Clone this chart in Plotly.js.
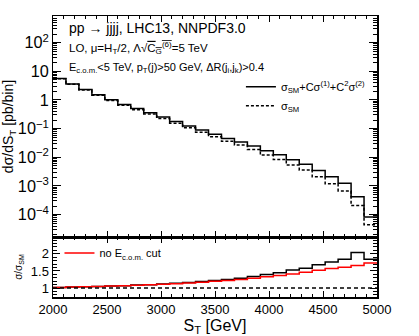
<!DOCTYPE html>
<html>
<head>
<meta charset="utf-8">
<script src="https://cdn.plot.ly/plotly-3.0.1.min.js"></script>
<style>
  html, body { margin: 0; padding: 0; background: #fff; }
  #target { width: 419px; height: 336px; }
</style>
</head>
<body>
<div id="target"></div>
<script>
(function(global) {
  // S_T bin edges [GeV], 120 GeV wide
  var binEdges = [2000, 2120, 2240, 2360, 2480, 2600, 2720, 2840, 2960, 3080, 3200, 3320, 3440,
                  3560, 3680, 3800, 3920, 4040, 4160, 4280, 4400, 4520, 4640, 4760, 4880, 5000];

  // dsigma/dS_T [pb/bin], SM + C sigma1 + C^2 sigma2
  var fullXsec = [5.62, 3.62, 2.33, 1.53, 1.02, 0.70, 0.50, 0.36, 0.255, 0.177, 0.124, 0.090, 0.064,
                  0.045, 0.0345, 0.025, 0.0168, 0.0122, 0.0082, 0.0057, 0.0035, 0.0021, 0.00124,
                  0.000425, 0.000082];
  // SM only
  var smXsec = [5.51, 3.51, 2.24, 1.46, 0.962, 0.654, 0.459, 0.327, 0.228, 0.155, 0.107, 0.0756,
                0.0525, 0.036, 0.0267, 0.0187, 0.012, 0.00841, 0.00536, 0.00361, 0.00208, 0.00119,
                0.000674, 0.000208, 0.0000446];

  // ratio sigma/sigma_SM, with E_com cut (black) and without (red)
  var ratioCut = [1.02, 1.03, 1.04, 1.05, 1.06, 1.07, 1.09, 1.10, 1.12, 1.14, 1.16, 1.19, 1.22,
                  1.25, 1.29, 1.34, 1.40, 1.45, 1.53, 1.58, 1.68, 1.76, 1.84, 2.04, 1.84];
  var ratioNoCut = [1.02, 1.03, 1.04, 1.05, 1.06, 1.07, 1.08, 1.10, 1.11, 1.13, 1.15, 1.17, 1.20,
                    1.225, 1.25, 1.29, 1.33, 1.37, 1.41, 1.46, 1.52, 1.57, 1.61, 1.66, 1.73];

  var fnt = 'Liberation Sans, Arial, Helvetica, sans-serif';

  // step histogram: repeat last value so the final bin gets its top edge
  function steps(vals) { return vals.concat([vals[vals.length - 1]]); }

  var traces = [];
  traces.push({
    x: binEdges, y: steps(fullXsec),
    type: 'scatter', mode: 'lines',
    line: {shape: 'hv', color: '#000', width: 1.5},
    name: 'σ<sub>SM</sub>+Cσ<sup>(1)</sup>+C<sup>2</sup>σ<sup>(2)</sup>',
    xaxis: 'x', yaxis: 'y', legend: 'legend'
  });
  traces.push({
    x: binEdges, y: steps(smXsec),
    type: 'scatter', mode: 'lines',
    line: {shape: 'hv', color: '#000', width: 1.5, dash: '3px,2px'},
    name: 'σ<sub>SM</sub>',
    xaxis: 'x', yaxis: 'y', legend: 'legend'
  });
  traces.push({
    x: binEdges, y: steps(ratioCut),
    type: 'scatter', mode: 'lines',
    line: {shape: 'hv', color: '#000', width: 1.5},
    showlegend: false,
    xaxis: 'x2', yaxis: 'y2'
  });
  traces.push({
    x: binEdges, y: steps(ratioNoCut),
    type: 'scatter', mode: 'lines',
    line: {shape: 'hv', color: '#ff0000', width: 1.5},
    name: 'no E<sub>c.o.m.</sub> cut',
    xaxis: 'x2', yaxis: 'y2', legend: 'legend2'
  });

  var split = 0.2135;

  var axisCommon = {
    showline: true, linecolor: '#000', linewidth: 1.5,
    ticks: 'inside', tickcolor: '#000', mirror: 'allticks',
    showgrid: false, zeroline: false, fixedrange: true,
    tickfont: {family: fnt, size: 13, color: '#000'}
  };

  var layout = {
    width: 419, height: 336,
    margin: {l: 53, r: 42, t: 16, b: 39},
    paper_bgcolor: '#fff', plot_bgcolor: '#fff',
    font: {family: fnt, color: '#000'},
    xaxis: Object.assign({}, axisCommon, {
      anchor: 'y', domain: [0, 1], range: [2000, 5000],
      showticklabels: false, dtick: 500, ticklen: 6,
      minor: {ticks: 'inside', dtick: 100, ticklen: 3, tickcolor: '#000'}
    }),
    yaxis: Object.assign({}, axisCommon, {
      anchor: 'x', domain: [split, 1], type: 'log', range: [-4.78, 2.93],
      dtick: 1, exponentformat: 'power', ticklen: 8,
      minor: {ticks: 'inside', dtick: 'D1', ticklen: 4, tickcolor: '#000'},
      title: {text: 'dσ/dS<sub>T</sub> [pb/bin]', font: {family: fnt, size: 14}, standoff: 4}
    }),
    xaxis2: Object.assign({}, axisCommon, {
      anchor: 'y2', domain: [0, 1], range: [2000, 5000],
      dtick: 500, ticklen: 6,
      minor: {ticks: 'inside', dtick: 100, ticklen: 3, tickcolor: '#000'},
      title: {text: 'S<sub>T</sub> [GeV]', font: {family: fnt, size: 16}, standoff: 5}
    }),
    yaxis2: Object.assign({}, axisCommon, {
      anchor: 'x2', domain: [0, split], range: [0.74, 2.49],
      tickvals: [1, 1.5, 2], ticklen: 7,
      minor: {ticks: 'inside', dtick: 0.1, ticklen: 4, tickcolor: '#000'},
      title: {text: 'σ/σ<sub>SM</sub>', font: {family: fnt, size: 10}, standoff: 6}
    }),
    shapes: [{
      type: 'line', xref: 'x2', yref: 'y2', x0: 2000, x1: 5000, y0: 1, y1: 1,
      line: {color: '#000', width: 1.5, dash: '4px,3px'}
    }],
    legend: {
      x: 0.58, y: 0.80, xanchor: 'left', yanchor: 'top',
      bgcolor: 'rgba(0,0,0,0)', font: {family: fnt, size: 11},
      tracegroupgap: 0, itemwidth: 30
    },
    legend2: {
      x: 0.02, y: split - 0.005, xanchor: 'left', yanchor: 'top',
      bgcolor: 'rgba(0,0,0,0)', font: {family: fnt, size: 11},
      itemwidth: 30
    },
    annotations: [
      {text: 'pp → jjjj, LHC13, NNPDF3.0', xref: 'paper', yref: 'paper',
       x: 0.043, y: 0.957, xanchor: 'left', yanchor: 'middle', showarrow: false,
       font: {family: fnt, size: 14}},
      {text: 'LO, μ=H<sub>T</sub>/2, Λ√<span style="text-decoration:overline">C<sub>G</sub><sup>(6)</sup></span>=5 TeV',
       xref: 'paper', yref: 'paper',
       x: 0.043, y: 0.885, xanchor: 'left', yanchor: 'middle', showarrow: false,
       font: {family: fnt, size: 11.5}},
      {text: 'E<sub>c.o.m.</sub><5 TeV, p<sub>T</sub>(j)>50 GeV, ΔR(j<sub>i</sub>,j<sub>k</sub>)>0.4',
       xref: 'paper', yref: 'paper',
       x: 0.043, y: 0.815, xanchor: 'left', yanchor: 'middle', showarrow: false,
       font: {family: fnt, size: 11}}
    ]
  };

  Plotly.newPlot('target', traces, layout, {displayModeBar: false, staticPlot: true});
})(window);
</script>
</body>
</html>
